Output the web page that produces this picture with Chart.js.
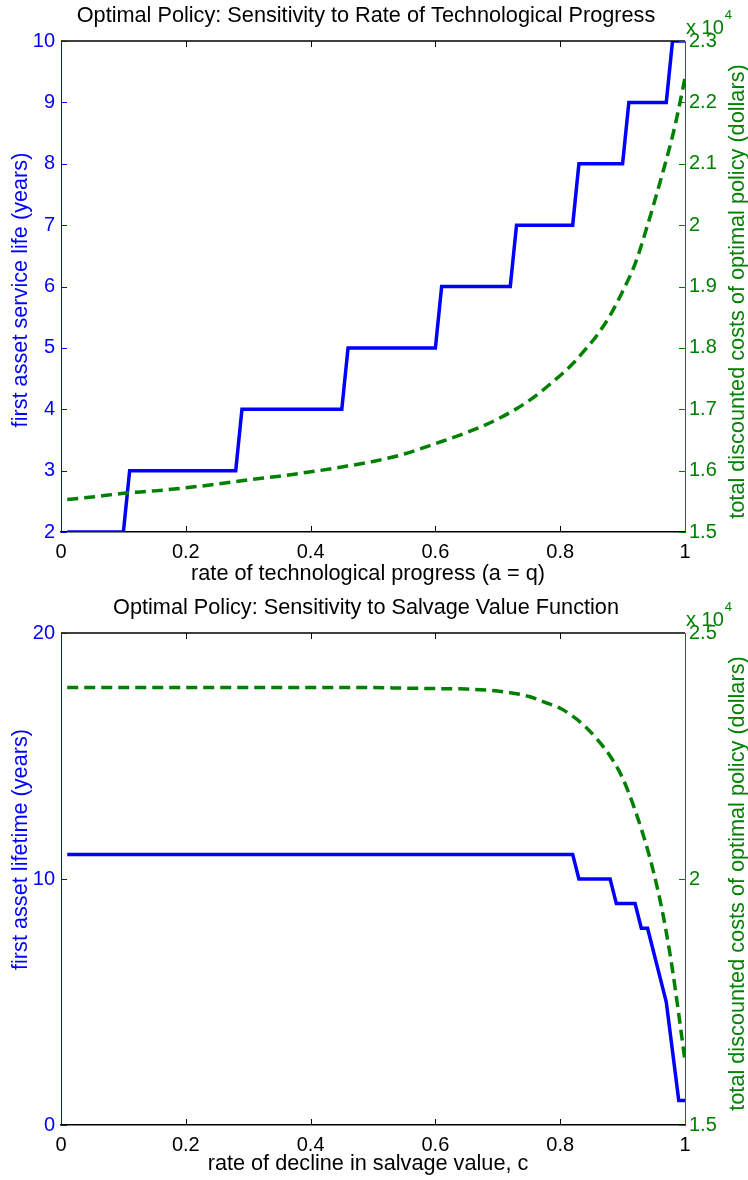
<!DOCTYPE html>
<html>
<head>
<meta charset="utf-8">
<title>Optimal Policy sensitivity</title>
<script src="https://cdn.jsdelivr.net/npm/chart.js@4.4.0/dist/chart.umd.min.js"></script>
<style>
  html, body { margin: 0; padding: 0; background: #fff; }
  .panel { position: absolute; left: 0; width: 748px; height: 590px; }
  canvas { display: block; }
</style>
</head>
<body>
<div class="panel" style="top:0"><canvas id="techChart" width="748" height="590"></canvas></div>
<div class="panel" style="top:590px"><canvas id="salvageChart" width="748" height="590"></canvas></div>

<script>
// ---- data ----
// x axis (both panels)
const rateTicks = [0, 0.2, 0.4, 0.6, 0.8, 1];

// top panel: rate of technological progress (a = q)
const techLifeRate = [0.01, 0.10, 0.11, 0.28, 0.29, 0.45, 0.46, 0.60, 0.61, 0.72, 0.73, 0.82, 0.83, 0.90, 0.91, 0.97, 0.98, 1.00];
const techLifeYears = [2, 2, 3, 3, 4, 4, 5, 5, 6, 6, 7, 7, 8, 8, 9, 9, 10, 10];
const techCostRate = [0.01, 0.05, 0.10, 0.15, 0.20, 0.25, 0.30, 0.35, 0.40, 0.45, 0.50, 0.55, 0.60, 0.65, 0.70, 0.75, 0.80, 0.82, 0.84, 0.86, 0.88, 0.90, 0.92, 0.94, 0.96, 0.98, 0.99, 1.00];
const techCost = [1.553, 1.557, 1.563, 1.567, 1.572, 1.578, 1.585, 1.591, 1.598, 1.606, 1.615, 1.627, 1.644, 1.662, 1.684, 1.714, 1.755, 1.774, 1.797, 1.822, 1.853, 1.892, 1.937, 2.000, 2.070, 2.145, 2.190, 2.240]; // x 10^4 dollars
const techLifeTicks = [2, 3, 4, 5, 6, 7, 8, 9, 10];
const techCostTicks = [1.5, 1.6, 1.7, 1.8, 1.9, 2.0, 2.1, 2.2, 2.3];

// bottom panel: rate of decline in salvage value, c
const salvLifeRate = [0.01, 0.82, 0.83, 0.88, 0.89, 0.92, 0.93, 0.94, 0.95, 0.96, 0.97, 0.98, 0.99, 1.00];
const salvLifeYears = [11, 11, 10, 10, 9, 9, 8, 8, 7, 6, 5, 3, 1, 1];
const salvCostRate = [0.01, 0.10, 0.20, 0.30, 0.40, 0.50, 0.55, 0.60, 0.65, 0.70, 0.75, 0.78, 0.80, 0.82, 0.84, 0.86, 0.88, 0.90, 0.92, 0.94, 0.95, 0.96, 0.97, 0.98, 0.99, 1.00];
const salvCost = [2.389, 2.389, 2.389, 2.389, 2.389, 2.389, 2.388, 2.387, 2.386, 2.382, 2.371, 2.357, 2.347, 2.331, 2.310, 2.283, 2.250, 2.205, 2.140, 2.060, 2.012, 1.957, 1.892, 1.815, 1.725, 1.630]; // x 10^4 dollars
const salvLifeTicks = [0, 10, 20];
const salvCostTicks = [1.5, 2, 2.5];

const FONT = '"Liberation Sans", Arial, Helvetica, sans-serif';
const BLUE = '#0000ff';
const GREEN = '#008000';
const TEXT_PX = 21.7;
Chart.defaults.font.family = FONT;

const toPoints = (xs, ys) => xs.map((x, i) => ({ x: x, y: ys[i] }));
const fmt = v => String(Number(v.toFixed(2)));
const fixTicks = list => scale => { scale.ticks = list.map(v => ({ value: v })); };

// matlab-like frame: black top edge, inward ticks, titles, "x 10^4"
const matlabFrame = {
  id: 'matlabFrame',
  afterDraw(chart, args, o) {
    const { ctx, chartArea: a, scales } = chart;
    ctx.save();

    ctx.strokeStyle = '#000';
    ctx.lineWidth = 1.5;
    ctx.beginPath();
    ctx.moveTo(a.left, a.top);
    ctx.lineTo(a.right, a.top);
    ctx.stroke();

    ctx.lineWidth = 1;
    scales.x.ticks.forEach(t => {
      if (t.value <= 0 || t.value >= 1) return;
      const px = Math.round(scales.x.getPixelForValue(t.value)) + 0.5;
      ctx.beginPath();
      ctx.moveTo(px, a.top); ctx.lineTo(px, a.top + 6);
      ctx.moveTo(px, a.bottom); ctx.lineTo(px, a.bottom - 6);
      ctx.stroke();
    });
    ctx.strokeStyle = BLUE;
    scales.y.ticks.forEach(t => {
      const py = Math.round(scales.y.getPixelForValue(t.value)) + 0.5;
      ctx.beginPath();
      ctx.moveTo(a.left, py); ctx.lineTo(a.left + 6, py);
      ctx.stroke();
    });
    ctx.strokeStyle = GREEN;
    scales.y1.ticks.forEach(t => {
      const py = Math.round(scales.y1.getPixelForValue(t.value)) + 0.5;
      ctx.beginPath();
      ctx.moveTo(a.right, py); ctx.lineTo(a.right - 6, py);
      ctx.stroke();
    });

    const midY = (a.top + a.bottom) / 2;
    ctx.fillStyle = '#000';
    ctx.textAlign = 'center';
    ctx.textBaseline = 'alphabetic';
    ctx.font = TEXT_PX + 'px ' + FONT;
    ctx.fillText(o.title, 366, a.top - 19);
    ctx.fillText(o.xTitle, 368, a.bottom + o.xTitleGap);

    ctx.textBaseline = 'middle';
    ctx.save();
    ctx.translate(21, midY + o.leftShift);
    ctx.rotate(-Math.PI / 2);
    ctx.fillStyle = BLUE;
    ctx.fillText(o.leftTitle, 0, 0);
    ctx.restore();
    ctx.save();
    ctx.translate(738, midY + o.rightShift);
    ctx.rotate(-Math.PI / 2);
    ctx.fillStyle = GREEN;
    ctx.fillText(o.rightTitle, 0, 0);
    ctx.restore();

    ctx.fillStyle = GREEN;
    ctx.textAlign = 'left';
    ctx.textBaseline = 'alphabetic';
    ctx.font = '20px ' + FONT;
    ctx.fillText('x 10', a.right + 1, a.top - 7);
    const w = ctx.measureText('x 10').width;
    ctx.font = '13px ' + FONT;
    ctx.fillText('4', a.right + 2 + w, a.top - 22);
    ctx.restore();
  }
};

function makeChart(id, life, cost, lifeTicks, costTicks, topPad, xHeight, frame) {
  return new Chart(document.getElementById(id), {
    type: 'line',
    data: {
      datasets: [
        {
          label: 'total discounted costs',
          data: cost,
          yAxisID: 'y1',
          borderColor: GREEN,
          borderWidth: 3.5,
          borderDash: [11, 6],
          borderCapStyle: 'butt',
          pointRadius: 0,
          cubicInterpolationMode: 'monotone',
          fill: false
        },
        {
          label: 'first asset life',
          data: life,
          yAxisID: 'y',
          borderColor: BLUE,
          borderWidth: 3.5,
          borderJoinStyle: 'miter',
          pointRadius: 0,
          tension: 0,
          fill: false
        }
      ]
    },
    options: {
      responsive: false,
      animation: false,
      events: [],
      layout: { padding: { top: topPad, left: 0, right: 0, bottom: 0 } },
      plugins: { legend: { display: false }, tooltip: { enabled: false }, matlabFrame: frame },
      scales: {
        x: {
          type: 'linear', min: 0, max: 1,
          afterBuildTicks: fixTicks(rateTicks),
          afterFit: s => { s.height = xHeight; },
          grid: { display: false, drawTicks: false },
          border: { color: '#000', width: 1.5 },
          ticks: { color: '#000', font: { size: 20 }, padding: 8, maxRotation: 0, autoSkip: false, callback: fmt }
        },
        y: {
          position: 'left',
          min: lifeTicks[0], max: lifeTicks[lifeTicks.length - 1],
          afterBuildTicks: fixTicks(lifeTicks),
          afterFit: s => { s.width = 61; },
          grid: { display: false, drawTicks: false },
          border: { color: BLUE, width: 1 },
          ticks: { color: BLUE, font: { size: 20 }, padding: 6, callback: fmt }
        },
        y1: {
          position: 'right',
          min: costTicks[0], max: costTicks[costTicks.length - 1],
          afterBuildTicks: fixTicks(costTicks),
          afterFit: s => { s.width = 63; },
          grid: { display: false, drawTicks: false },
          border: { color: GREEN, width: 1 },
          ticks: { color: GREEN, font: { size: 20 }, padding: 4, callback: fmt }
        }
      }
    },
    plugins: [matlabFrame]
  });
}

makeChart('techChart',
  toPoints(techLifeRate, techLifeYears),
  toPoints(techCostRate, techCost),
  techLifeTicks, techCostTicks, 41, 58,
  {
    title: 'Optimal Policy: Sensitivity to Rate of Technological Progress',
    xTitle: 'rate of technological progress (a = q)',
    leftTitle: 'first asset service life (years)',
    rightTitle: 'total discounted costs of optimal policy (dollars)',
    xTitleGap: 48, leftShift: 3.5, rightShift: 5
  });

makeChart('salvageChart',
  toPoints(salvLifeRate, salvLifeYears),
  toPoints(salvCostRate, salvCost),
  salvLifeTicks, salvCostTicks, 43, 55,
  {
    title: 'Optimal Policy: Sensitivity to Salvage Value Function',
    xTitle: 'rate of decline in salvage value, c',
    leftTitle: 'first asset lifetime (years)',
    rightTitle: 'total discounted costs of optimal policy (dollars)',
    xTitleGap: 45, leftShift: -29.5, rightShift: 4.5
  });
</script>
</body>
</html>
